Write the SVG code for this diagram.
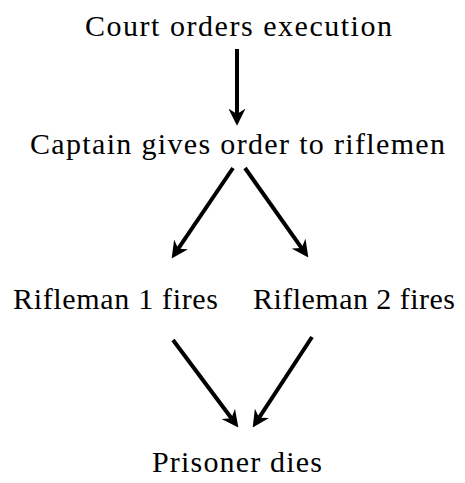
<svg xmlns="http://www.w3.org/2000/svg" width="465" height="483" viewBox="0 0 465 483">
<style>
text{font-family:"Liberation Serif","DejaVu Serif",serif;font-size:30px;fill:#000;text-anchor:middle}
.c line{stroke:#000;stroke-width:4;marker-end:url(#ah)}
</style>
<defs>
<marker id="ah" markerUnits="userSpaceOnUse" markerWidth="17" markerHeight="17" viewBox="0 0 16 16" refX="6" refY="8" orient="auto">
<path d="M0,0 L16,8 L0,16 L5,8 z" fill="#000"/>
</marker>
</defs>
<rect width="465" height="483" fill="#fff"/>
<g id="court"><text x="238.5" y="36" textLength="307" lengthAdjust="spacing">Court orders execution</text></g>
<g id="captain"><text x="237.5" y="154" textLength="415" lengthAdjust="spacing">Captain gives order to riflemen</text></g>
<g id="rifleman1"><text x="115.5" y="309" textLength="205" lengthAdjust="spacing">Rifleman 1 fires</text></g>
<g id="rifleman2"><text x="354" y="309" textLength="202" lengthAdjust="spacing">Rifleman 2 fires</text></g>
<g id="prisoner"><text x="237" y="472" textLength="170" lengthAdjust="spacing">Prisoner dies</text></g>
<g class="c" id="connectors">
<line x1="237" y1="49" x2="237" y2="115"/>
<line x1="233" y1="168" x2="177.6" y2="249.7"/>
<line x1="245" y1="168" x2="302.2" y2="248.8"/>
<line x1="173" y1="340" x2="232" y2="419"/>
<line x1="312" y1="337" x2="258.5" y2="418.6"/>
</g>
</svg>
